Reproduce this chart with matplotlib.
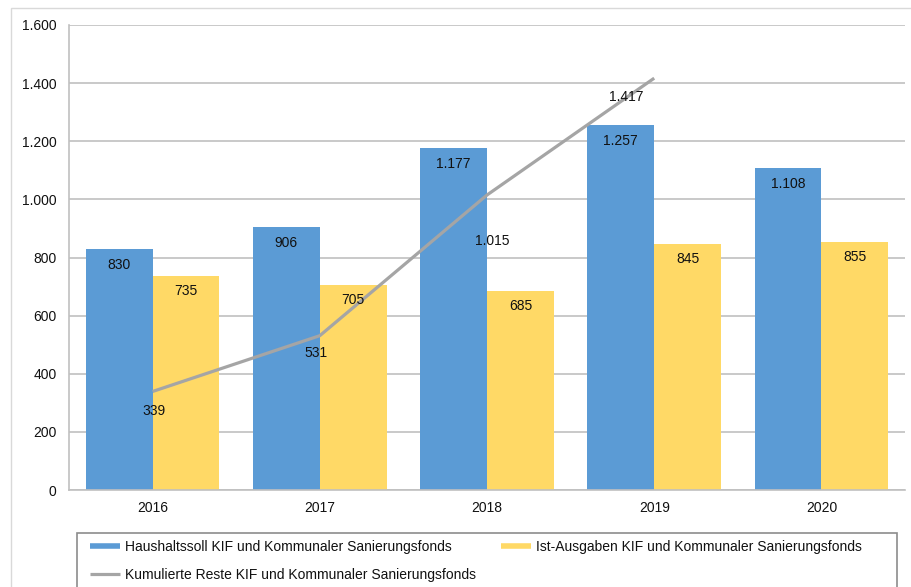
import matplotlib
matplotlib.use("Agg")
import matplotlib.pyplot as plt
from matplotlib.lines import Line2D
from matplotlib.patches import Rectangle
import numpy as np

plt.rcParams['font.family'] = ['Liberation Sans', 'DejaVu Sans']

years = ["2016", "2017", "2018", "2019", "2020"]
soll = [830, 906, 1177, 1257, 1108]
ist = [735, 705, 685, 845, 855]
reste_years = ["2016", "2017", "2018", "2019"]
reste = [339, 531, 1015, 1417]
yticks = [0, 200, 400, 600, 800, 1000, 1200, 1400, 1600]

label_soll = "Haushaltssoll KIF und Kommunaler Sanierungsfonds"
label_ist = "Ist-Ausgaben KIF und Kommunaler Sanierungsfonds"
label_reste = "Kumulierte Reste KIF und Kommunaler Sanierungsfonds"

def de(v):
    return f"{v:,}".replace(",", ".")

blue = "#5B9BD5"
yellow = "#FFD966"
gray = "#A5A5A5"
grid = "#C0C0C0"

fig = plt.figure(figsize=(9.11, 5.87), dpi=100)
ax = fig.add_axes([69/911, 1-490/587, (905-69)/911, (490-25)/587])

x = np.arange(len(years))
w = 0.4
ax.bar(x - w/2, soll, width=w, color=blue, zorder=2)
ax.bar(x + w/2, ist, width=w, color=yellow, zorder=2)
xr = np.arange(len(reste_years))
ax.plot(xr, reste, color=gray, lw=2.3, zorder=3, solid_capstyle='butt')

for xi, v in zip(x - w/2, soll):
    ax.annotate(de(v), (xi, v), xytext=(0, -16), textcoords='offset pixels',
                ha='center', va='center', fontsize=10, color='#111111', zorder=4)
for xi, v in zip(x + w/2, ist):
    ax.annotate(de(v), (xi, v), xytext=(0, -15), textcoords='offset pixels',
                ha='center', va='center', fontsize=10, color='#111111', zorder=4)

line_offsets = [(1, -20), (-4, -17), (5, -46), (-28, -19)]
for xi, v, (dx, dy) in zip(xr, reste, line_offsets):
    ax.annotate(de(v), (xi, v), xytext=(dx, dy), textcoords='offset pixels',
                ha='center', va='center', fontsize=10, color='#111111', zorder=4)

ax.set_xlim(-0.5, len(years) - 0.5)
ax.set_ylim(0, 1600)
ax.set_yticks(yticks)
ax.set_yticklabels([de(t) for t in yticks])
ax.set_xticks(x)
ax.set_xticklabels(years)
ax.tick_params(axis='both', length=0, labelsize=10, colors='#111111')
ax.tick_params(axis='y', pad=9)
ax.tick_params(axis='x', pad=8)
ax.yaxis.grid(True, color=grid, lw=1.2, zorder=0)
ax.set_axisbelow(True)
for s in ['top', 'right']:
    ax.spines[s].set_visible(False)
for s in ['left', 'bottom']:
    ax.spines[s].set_color(grid)
    ax.spines[s].set_linewidth(1.2)

# outer frame
fig.patches.append(Rectangle((10.5/911, -0.1), 1.0, 1.1 - 8/587, transform=fig.transFigure,
                             fill=False, edgecolor='#D9D9D9', lw=1.0))
# legend frame
fig.patches.append(Rectangle((77/911, -0.1), (897-77)/911, 0.1 + (587-533)/587,
                             transform=fig.transFigure, fill=False,
                             edgecolor='#8C8C8C', lw=1.2))

handles = [Line2D([], [], color=blue, lw=4, solid_capstyle='butt'),
           Line2D([], [], color=gray, lw=2.3, solid_capstyle='butt'),
           Line2D([], [], color=yellow, lw=4, solid_capstyle='butt')]
labels = [label_soll, label_reste, label_ist]
leg = fig.legend(handles, labels, loc='upper left', ncol=2,
                 bbox_to_anchor=(90/911, (587-540)/587),
                 fontsize=10, frameon=False, handlelength=2.15, handletextpad=0.35,
                 labelspacing=1.0, borderpad=0, borderaxespad=0, columnspacing=1.85)
for t in leg.get_texts():
    t.set_color('#111111')

fig.savefig("out.png", dpi=100)
